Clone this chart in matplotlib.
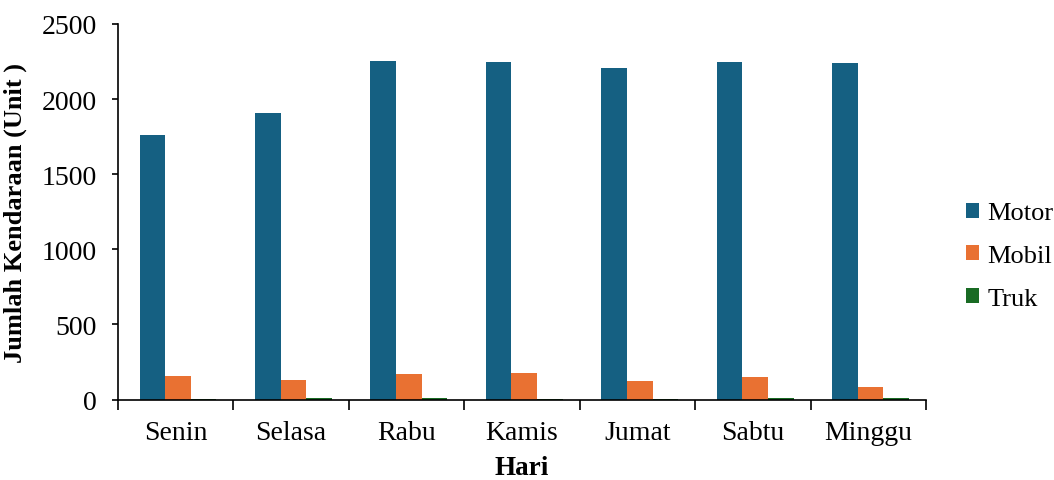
import matplotlib
matplotlib.use("Agg")
import matplotlib.pyplot as plt
import numpy as np

# Daily vehicle counts by type
hari = ["Senin", "Selasa", "Rabu", "Kamis", "Jumat", "Sabtu", "Minggu"]
motor = [1762, 1905, 2252, 2247, 2207, 2245, 2238]
mobil = [158, 130, 168, 176, 121, 150, 83]
truk = [5, 9, 8, 2, 6, 9, 10]

series = [("Motor", motor, "#156082"),
          ("Mobil", mobil, "#E97132"),
          ("Truk", truk, "#196B24")]

plt.rcParams["font.family"] = ["Liberation Serif", "DejaVu Serif"]

fig = plt.figure(figsize=(10.54, 4.81), dpi=100)
ax = fig.add_axes([118 / 1054, 1 - 400.5 / 481, (926 - 118) / 1054, (400.5 - 25) / 481])

x = np.arange(len(hari))
w = 0.222
shift = 0.02
handles = []
for i, (name, vals, col) in enumerate(series):
    h = ax.bar(x + shift + (i - 1) * w, vals, width=w, color=col, label=name,
               edgecolor="none")
    handles.append(h)

ax.set_xlim(-0.5, len(hari) - 0.5)
ax.set_ylim(0, 2500)
ax.set_yticks(np.arange(0, 2501, 500))

# category boundaries carry the tick marks, centers carry the labels
ax.set_xticks(np.arange(-0.5, len(hari), 1.0))
ax.set_xticklabels([])
ax.set_xticks(x, minor=True)
ax.set_xticklabels(hari, minor=True)
ax.tick_params(axis="x", which="major", length=7, width=1.2, direction="out")
ax.tick_params(axis="x", which="minor", length=0, pad=15, labelsize=20)
ax.tick_params(axis="y", length=4, width=1.2, direction="out", pad=11,
               labelsize=20)

for s in ["top", "right"]:
    ax.spines[s].set_visible(False)
for s in ["left", "bottom"]:
    ax.spines[s].set_linewidth(1.2)

ax.set_xlabel("Hari", fontsize=19.5, fontweight="bold", labelpad=7)
ax.set_ylabel("Jumlah Kendaraan (Unit )", fontsize=19, fontweight="bold",
              labelpad=11)

fig.legend(handles=handles, loc="center left",
           bbox_to_anchor=(966 / 1054, 1 - 257 / 481),
           frameon=False, fontsize=19, handlelength=0.5, handleheight=0.5,
           handletextpad=0.3, labelspacing=0.78, borderpad=0,
           borderaxespad=0)

fig.savefig("out.png", dpi=100)
